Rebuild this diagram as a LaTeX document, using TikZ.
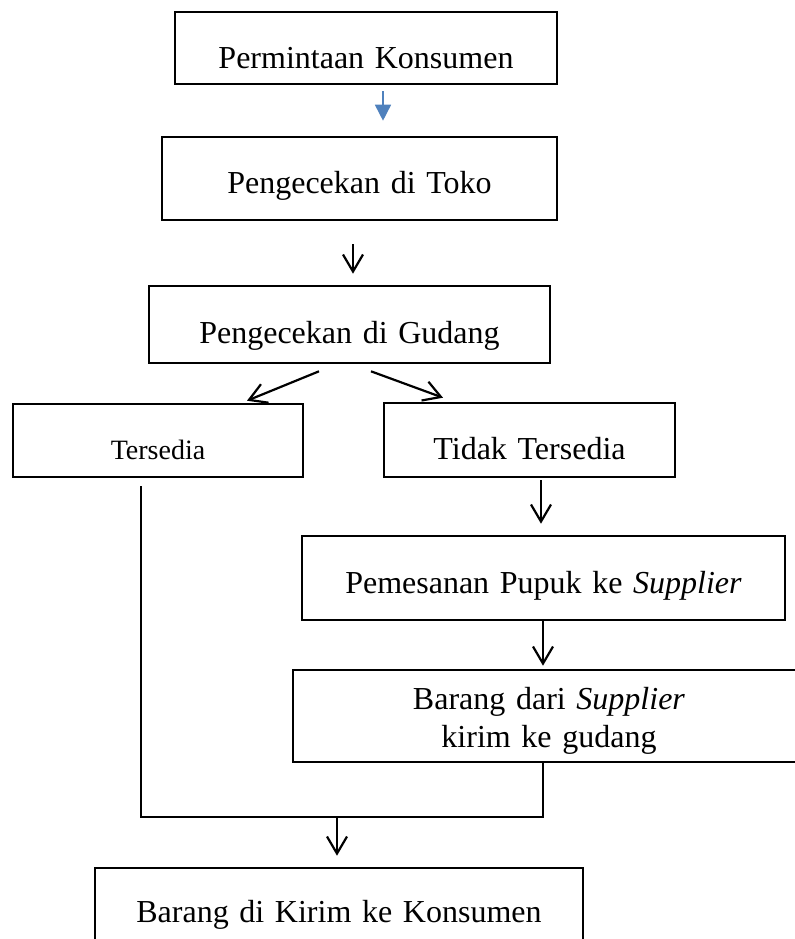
\documentclass[tikz,border=0pt]{standalone}
\usepackage{fontspec}
\setmainfont{Liberation Serif}
\usetikzlibrary{arrows.meta}
\definecolor{birupanah}{RGB}{79,129,189}

\begin{document}
\begin{tikzpicture}[x=0.5pt,y=-0.5pt]
  \tikzstyle{kotak}=[draw,line width=1.3pt,inner sep=0pt,align=center,font=\fontsize{16}{19}\selectfont]
  \tikzstyle{panah}=[line width=1.1pt,-{Straight Barb[length=8.5pt,width=10pt]}]
  \tikzstyle{panahbiru}=[birupanah,line width=0.8pt,-{Triangle[length=8pt,width=8pt]}]
  \tikzstyle{garis}=[line width=1.1pt]
  \useasboundingbox (0,0) rectangle (795,939);
  \clip (0,0) rectangle (795,939);
  \node[kotak,text width=191pt,text height=28pt,text depth=8pt] (minta) at (366,48) {Permintaan Konsumen};
  \node[kotak,text width=197.5pt,text height=28pt,text depth=13.5pt] (toko) at (359.5,178.5) {Pengecekan di Toko};
  \node[kotak,text width=200.5pt,text height=28.5pt,text depth=10pt] (gudang) at (349.5,324.5) {Pengecekan di Gudang};
  \node[kotak,text width=145pt,text height=27.5pt,text depth=9pt,font=\fontsize{14}{17}\selectfont] (ada) at (158,440.5) {Tersedia};
  \node[kotak,text width=145.5pt,text height=28pt,text depth=9pt] (tidak) at (529.5,440) {Tidak Tersedia};
  \node[kotak,text width=241.5pt,text height=28.5pt,text depth=13.5pt] (pesan) at (543.5,578) {Pemesanan Pupuk ke \textit{Supplier}};
  \node[kotak,text width=256pt,minimum height=46pt] (kirim) at (549,716) {\rule{0pt}{16pt}Barang dari \textit{Supplier}\\kirim ke gudang};
  \node[kotak,text width=244pt,text height=27pt,text depth=10pt] (kons) at (339,905) {Barang di Kirim ke Konsumen};
  \coordinate (temu) at (337,817);
  \draw[panahbiru] ([xshift=8.5pt,yshift=-3pt]minta.south) -- ([xshift=11.75pt,yshift=7.5pt]toko.north);
  \draw[panah] ([xshift=-3.25pt,yshift=-11.5pt]toko.south) -- ([xshift=1.75pt,yshift=5.5pt]gudang.north);
  \draw[panah] ([xshift=-15.25pt,yshift=-3.5pt]gudang.south) -- ([xshift=44.5pt,yshift=1pt]ada.north);
  \draw[panah] ([xshift=10.75pt,yshift=-3.5pt]gudang.south) -- ([xshift=-43.25pt,yshift=2pt]tidak.north);
  \draw[panah] ([xshift=5.75pt,yshift=-1pt]tidak.south) -- ([xshift=-1.25pt,yshift=5.5pt]pesan.north);
  \draw[panah] ([xshift=-0.25pt]pesan.south) -- ([xshift=-3pt,yshift=1.5pt]kirim.north);
  \draw[garis] ([xshift=-8.5pt,yshift=-4pt]ada.south) |- (temu) -| ([xshift=-3pt]kirim.south);
  \draw[panah] (temu) -- ([xshift=-1pt,yshift=5.5pt]kons.north);
\end{tikzpicture}
\end{document}
